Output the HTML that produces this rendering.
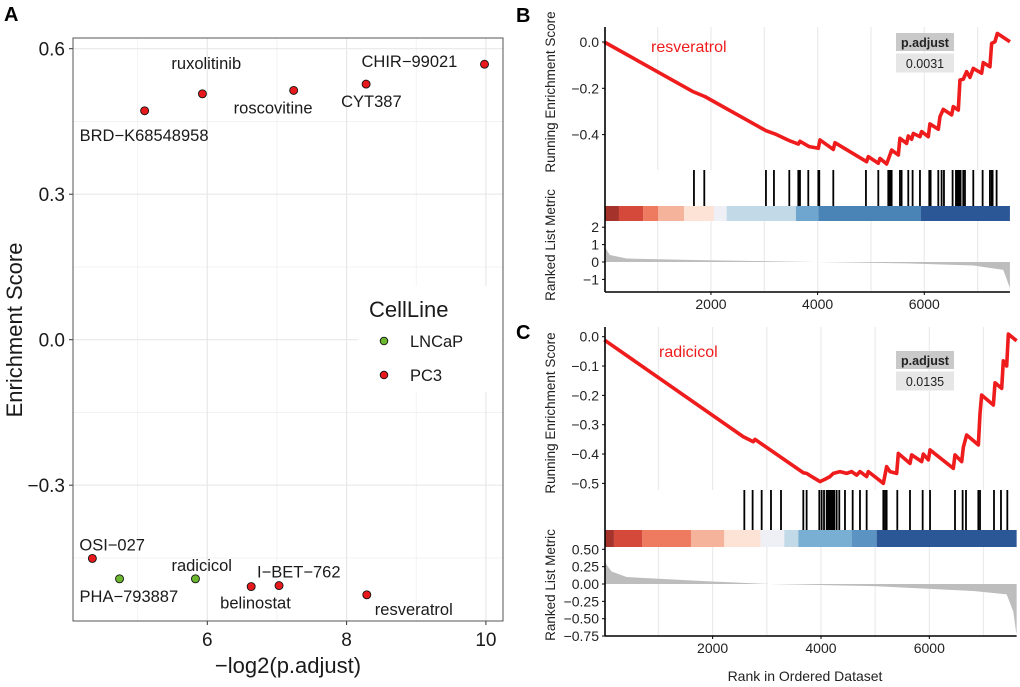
<!DOCTYPE html>
<html><head><meta charset="utf-8">
<style>
html,body{margin:0;padding:0;background:#fff;}
svg{display:block;font-family:"Liberation Sans",Arial,sans-serif;}
</style></head>
<body>
<svg id="fig" width="1020" height="687" viewBox="0 0 1020 687" xmlns="http://www.w3.org/2000/svg">
  <rect x="0" y="0" width="1020" height="687" fill="#fff"/>
  <text x="4" y="21" font-size="20" font-weight="bold">A</text>
  <text x="516" y="22" font-size="20" font-weight="bold">B</text>
  <text x="516" y="339" font-size="20" font-weight="bold">C</text>
  <g id="pa"></g>
  <g id="pb"></g>
  <g id="pc"></g>
</svg>
<script>
// ---------- Panel A data ----------
const drugNames = ["BRD\u2212K68548958","ruxolitinib","roscovitine","CYT387","CHIR\u221299021","OSI\u2212027","PHA\u2212793887","radicicol","belinostat","I\u2212BET\u2212762","resveratrol"];
const drugLogP = [5.10,5.93,7.24,8.28,9.98,4.35,4.74,5.83,6.63,7.03,8.29];
const drugES = [0.472,0.507,0.514,0.527,0.568,-0.451,-0.493,-0.493,-0.509,-0.507,-0.526];
const drugCell = ["PC3","PC3","PC3","PC3","PC3","PC3","LNCaP","LNCaP","PC3","PC3","PC3"];
const xTicksA = [6,8,10];
const yTicksA = [-0.3,0,0.3,0.6];
const cellLines = ["LNCaP","PC3"];

// ---------- Panel B data ----------
const bCurveRank = [0,1669,1888,3031,3200,3469,3638,3669,3844,4013,4044,4294,4325,4919,4950,5138,5169,5294,5388,5513,5544,5669,5700,5763,5794,5919,5950,6075,6106,6263,6294,6356,6513,6544,6638,6669,6731,6794,6856,6919,7075,7106,7231,7263,7325,7369,7606];
const bCurveES = [0,-0.215,-0.236,-0.383,-0.397,-0.426,-0.441,-0.429,-0.452,-0.459,-0.423,-0.464,-0.435,-0.517,-0.495,-0.524,-0.503,-0.527,-0.467,-0.488,-0.416,-0.438,-0.406,-0.420,-0.395,-0.409,-0.387,-0.409,-0.354,-0.377,-0.323,-0.291,-0.315,-0.279,-0.294,-0.164,-0.161,-0.128,-0.153,-0.114,-0.135,-0.089,-0.107,-0.006,0.001,0.037,0.001];
const bHits = [1681,1875,3031,3181,3469,3638,3656,3669,3825,4013,4031,4294,4906,5138,5325,5344,5369,5388,5544,5575,5700,5781,5919,6094,6119,6263,6325,6369,6531,6594,6619,6638,6656,6681,6731,6763,6919,7094,7231,7263,7281,7356];
const bBandEdges = [25,275,731,1013,1494,2056,2294,3594,4013,5938,7606];
const bBandColors = ["#a5332c","#d5493a","#ee7b60","#f5b39c","#fde2d6","#eef0f6","#c2d9e7","#6fa6cf","#4a83b5","#2c5797"];
const bMetricRank = [0,106,419,1919,3981,5669,6919,7481,7594,7606];
const bMetric = [0.9,0.4,0.2,0.1,0,-0.08,-0.2,-0.45,-1.4,-1.5];
const bYTicksTop = [0,-0.2,-0.4];
const bYTicksLow = [2,1,0,-1];
const xTicksGsea = [2000,4000,6000];

// ---------- Panel C data ----------
const cCurveRank = [0,2566,2751,2782,3674,3735,3828,3982,4074,4166,4228,4351,4474,4566,4659,4720,4843,4874,5151,5212,5274,5397,5428,5643,5674,5859,5889,5982,6013,6443,6474,6597,6628,6689,6905,6936,6966,7182,7213,7336,7366,7428,7459,7612];
const cCurveES = [-0.011,-0.341,-0.358,-0.350,-0.464,-0.466,-0.477,-0.494,-0.486,-0.477,-0.466,-0.460,-0.466,-0.460,-0.472,-0.460,-0.477,-0.460,-0.500,-0.443,-0.460,-0.466,-0.398,-0.432,-0.403,-0.426,-0.400,-0.420,-0.386,-0.449,-0.403,-0.426,-0.377,-0.335,-0.369,-0.261,-0.199,-0.233,-0.157,-0.176,-0.082,-0.100,0.009,-0.014];
const cHits = [2585,2738,2905,3077,3262,3674,3735,3969,4012,4056,4105,4136,4154,4177,4202,4228,4246,4289,4338,4443,4585,4720,4843,5151,5182,5212,5409,5643,5877,6013,6474,6615,6677,6905,6936,7194,7323,7440];
const cBandEdges = [25,178,702,1600,2215,2886,3323,3582,4566,5028,7612];
const cBandColors = ["#a5332c","#d5493a","#ee7b60","#f5b39c","#fde2d6","#eef0f6","#c2d9e7","#79afd3","#5b93c2","#2c5797"];
const cMetricRank = [0,135,412,1889,3060,4966,6812,7428,7551,7600,7612];
const cMetric = [0.32,0.18,0.1,0.04,0,-0.03,-0.1,-0.15,-0.4,-0.68,-0.72];
const cYTicksTop = [0,-0.1,-0.2,-0.3,-0.4,-0.5];
const cYTicksLow = [0.5,0.25,0,-0.25,-0.5,-0.75];

const NS = "http://www.w3.org/2000/svg";
function mk(parent, tag, attrs, txt){
  const e = document.createElementNS(NS, tag);
  for (const k in attrs) e.setAttribute(k, attrs[k]);
  if (txt !== undefined) e.textContent = txt;
  parent.appendChild(e);
  return e;
}
function fmt(v, d){ const s = Math.abs(v).toFixed(d); return (v < 0 ? "\u2212" : "") + s; }

// ---------- Panel A ----------
(function(){
  const g = document.getElementById("pa");
  const L=73, R=503, T=38, B=621;
  const sx = v => 207.3 + (v-6)*69.65;
  const sy = v => 339.7 - v*485;
  for (const v of [5,7,9]) { const l = mk(g,"line",{x1:sx(v),x2:sx(v),y1:T,y2:B,stroke:"#f0f0f0","stroke-width":0.8});
      }
  for (const v of [-0.45,-0.15,0.15,0.45]) { const l = mk(g,"line",{x1:L,x2:R,y1:sy(v),y2:sy(v),stroke:"#f0f0f0","stroke-width":0.8});
      }
  for (const v of xTicksA) { const l = mk(g,"line",{x1:sx(v),x2:sx(v),y1:T,y2:B,stroke:"#e8e8e8","stroke-width":1.2});
     
    const tk = mk(g,"line",{x1:sx(v),x2:sx(v),y1:B,y2:B+4,stroke:"#333","stroke-width":1});
     
    const t = mk(g,"text",{x:sx(v),y:B+25,"font-size":19,"text-anchor":"middle",fill:"#1a1a1a"}, String(v));
      }
  for (const v of yTicksA) { const l = mk(g,"line",{x1:L,x2:R,y1:sy(v),y2:sy(v),stroke:"#e8e8e8","stroke-width":1.2});
     
    const tk = mk(g,"line",{x1:L-4,x2:L,y1:sy(v),y2:sy(v),stroke:"#333","stroke-width":1});
     
    const t = mk(g,"text",{x:L-8,y:sy(v)+7,"font-size":19,"text-anchor":"end",fill:"#1a1a1a"}, v===0?"0.0":fmt(v,1));
      }
  const lb = mk(g,"rect",{x:358,y:286,width:144,height:106,fill:"#fff"});
   
  const border = mk(g,"rect",{x:L,y:T,width:R-L,height:B-T,fill:"none",stroke:"#555","stroke-width":1});
   
  const colors = {LNCaP:"#6bb82f", PC3:"#e8191c"};
  const offs = [[-65,30],[-31,-25],[-60,23],[-25,23],[-123,3],[-13,-8],[-40,23],[-24,-8],[-31,22],[-22,-8],[8,20]];
  for (let i=0;i<drugNames.length;i++){
    const cx=sx(drugLogP[i]), cy=sy(drugES[i]);
    const c = mk(g,"circle",{cx:cx,cy:cy,r:4,fill:colors[drugCell[i]],stroke:"#111","stroke-width":0.9});
    
    
    const t = mk(g,"text",{x:cx+offs[i][0],y:cy+offs[i][1],"font-size":16.5,fill:"#1a1a1a"}, drugNames[i]);
     
  }
  const lt = mk(g,"text",{x:369,y:317,"font-size":22,fill:"#1a1a1a"},"CellLine");
   
  cellLines.forEach((cl,i)=>{
    const y = 341 + i*34;
    const c = mk(g,"circle",{cx:384,cy:y,r:3.8,fill:colors[cl],stroke:"#111","stroke-width":0.9});
     
    const t = mk(g,"text",{x:410,y:y+6,"font-size":16.5,fill:"#1a1a1a"},cl);
     
  });
  const xt = mk(g,"text",{x:288,y:673,"font-size":22,"text-anchor":"middle",fill:"#1a1a1a"},"\u2212log2(p.adjust)");
   
  const yt = mk(g,"text",{x:0,y:0,"font-size":22,"text-anchor":"middle",fill:"#1a1a1a",transform:"translate(22,330) rotate(-90)"},"Enrichment Score");
   
})();

// ---------- GSEA panels ----------
function gsea(id, cfg){
  const g = document.getElementById(id);
  const sx = r => 604.3 + r*cfg.kx;
  const syT = v => cfg.y0 - v*cfg.ky;
  const syL = v => cfg.m0 - v*cfg.km;
  const L = 605, R = sx(cfg.maxRank);
  for (let r=1000;r<=7000;r+=1000){
    const a = mk(g,"line",{x1:sx(r),x2:sx(r),y1:cfg.top,y2:cfg.tickTop,stroke:"#ebebeb","stroke-width":1.2});
     
    const b = mk(g,"line",{x1:sx(r),x2:sx(r),y1:cfg.barBot,y2:cfg.axisY,stroke:"#ebebeb","stroke-width":1.2});
     
  }
  let d = "M"+sx(cfg.mRank[0])+","+syL(0);
  for (let i=0;i<cfg.mRank.length;i++) d += " L"+sx(cfg.mRank[i])+","+syL(cfg.mVal[i]);
  d += " L"+sx(cfg.mRank[cfg.mRank.length-1])+","+syL(0)+" Z";
  const ar = mk(g,"path",{d:d,fill:"#bdbdbd",stroke:"none"});
   
  for (let i=0;i<cfg.bandColors.length;i++){
    const x0 = i===0 ? L : sx(cfg.bandEdges[i]);
    const rc = mk(g,"rect",{x:x0,y:cfg.barTop,width:sx(cfg.bandEdges[i+1])-x0,height:cfg.barBot-cfg.barTop,fill:cfg.bandColors[i]});
     
  }
  for (const h of cfg.hits){
    const l = mk(g,"line",{x1:sx(h),x2:sx(h),y1:cfg.tickTop,y2:cfg.barTop,stroke:"#000","stroke-width":1.8});
     
  }
  const pts = cfg.cRank.map((r,i)=>sx(r)+","+syT(cfg.cES[i])).join(" ");
  const pl = mk(g,"polyline",{points:pts,fill:"none",stroke:"#ee1c1c","stroke-width":3.6,"stroke-linejoin":"round"});
   
  const ax = mk(g,"line",{x1:L,x2:L,y1:cfg.top,y2:cfg.axisY,stroke:"#000","stroke-width":1.6});
   
  const bx = mk(g,"line",{x1:L,x2:R,y1:cfg.axisY,y2:cfg.axisY,stroke:"#000","stroke-width":1.6});
   
  for (const v of xTicksGsea){
    const tk = mk(g,"line",{x1:sx(v),x2:sx(v),y1:cfg.axisY,y2:cfg.axisY+3,stroke:"#000","stroke-width":1});
     
    const t = mk(g,"text",{x:sx(v),y:cfg.axisY+17,"font-size":14,"text-anchor":"middle",fill:"#222"},String(v));
     
  }
  for (const v of cfg.yTop){
    const tk = mk(g,"line",{x1:L-3,x2:L,y1:syT(v),y2:syT(v),stroke:"#000","stroke-width":1});
     
    const t = mk(g,"text",{x:L-6,y:syT(v)+5,"font-size":14,"text-anchor":"end",fill:"#222"},v===0?"0.0":fmt(v,1));
     
  }
  for (const v of cfg.yLow){
    const tk = mk(g,"line",{x1:L-3,x2:L,y1:syL(v),y2:syL(v),stroke:"#000","stroke-width":1});
     
    const t = mk(g,"text",{x:L-6,y:syL(v)+5,"font-size":14,"text-anchor":"end",fill:"#222"},v===0?cfg.zeroLbl:fmt(v,cfg.lowDec));
     
  }
  const t1 = mk(g,"text",{x:0,y:0,"font-size":13.5,"text-anchor":"middle",fill:"#222",transform:"translate(555,"+cfg.titleTopY+") rotate(-90)"},"Running Enrichment Score");
   
  const t2 = mk(g,"text",{x:0,y:0,"font-size":13.5,"text-anchor":"middle",fill:"#222",transform:"translate(555,"+cfg.titleLowY+") rotate(-90)"},"Ranked List Metric");
   
  const nm = mk(g,"text",{x:cfg.nameX,y:cfg.nameY,"font-size":16,fill:"#ee1c1c"},cfg.name);
   
  const h1 = mk(g,"rect",{x:896,y:cfg.boxY,width:58,height:18,fill:"#c9c9c9"});
   
  const h2 = mk(g,"rect",{x:896,y:cfg.boxY+20.5,width:58,height:19,fill:"#e6e6e6"});
   
  const ht = mk(g,"text",{x:925,y:cfg.boxY+14,"font-size":12.5,"font-weight":"bold","text-anchor":"middle",fill:"#222"},"p.adjust");
   
  const vt = mk(g,"text",{x:925,y:cfg.boxY+35,"font-size":12.5,"text-anchor":"middle",fill:"#222"},cfg.padj);
   
}
gsea("pb",{kx:0.05333,y0:42,ky:231.5,m0:262,km:17.4,top:27,tickTop:170,barTop:206,barBot:221,axisY:292,maxRank:7606,
  cRank:bCurveRank,cES:bCurveES,hits:bHits,bandEdges:bBandEdges,bandColors:bBandColors,mRank:bMetricRank,mVal:bMetric,
  yTop:bYTicksTop,yLow:bYTicksLow,zeroLbl:"0",lowDec:0,titleTopY:92,titleLowY:245,name:"resveratrol",nameX:651,nameY:52,boxY:33,padj:"0.0031"});
gsea("pc",{kx:0.05417,y0:336.7,ky:293.3,m0:584,km:69.4,top:327,tickTop:490,barTop:530,barBot:547,axisY:636,maxRank:7612,
  cRank:cCurveRank,cES:cCurveES,hits:cHits,bandEdges:cBandEdges,bandColors:cBandColors,mRank:cMetricRank,mVal:cMetric,
  yTop:cYTicksTop,yLow:cYTicksLow,zeroLbl:"0.00",lowDec:2,titleTopY:413,titleLowY:585,name:"radicicol",nameX:659,nameY:357,boxY:351,padj:"0.0135"});
const xt = mk(document.getElementById("pc"),"text",{x:805,y:681,"font-size":14,"text-anchor":"middle",fill:"#222"},"Rank in Ordered Dataset");


</script>
</body></html>
